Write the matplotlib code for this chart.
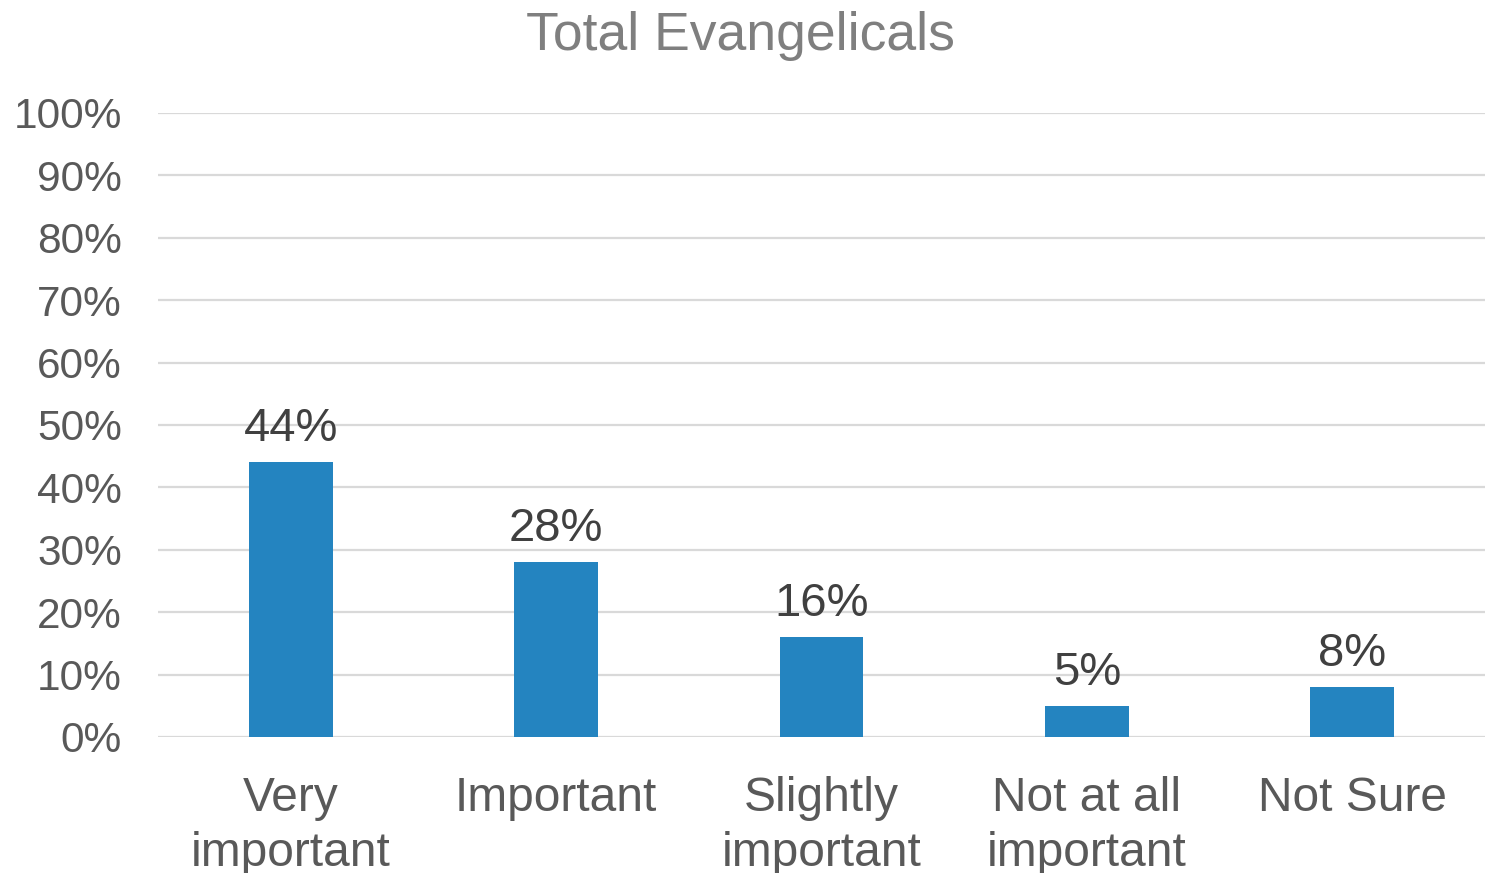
import matplotlib
matplotlib.use("Agg")
import matplotlib.pyplot as plt
from matplotlib.ticker import PercentFormatter

categories = ["Very\nimportant", "Important", "Slightly\nimportant", "Not at all\nimportant", "Not Sure"]
values = [44, 28, 16, 5, 8]
yticks = [0, 10, 20, 30, 40, 50, 60, 70, 80, 90, 100]

plt.rcParams['font.family'] = ['Liberation Sans', 'DejaVu Sans']

fig = plt.figure(figsize=(14.85, 8.73), dpi=100)
ax = fig.add_axes([158/1485, 1 - 737/873, 1 - 158/1485, (737 - 113)/873])

x = list(range(len(categories)))
bars = ax.bar(x, values, width=0.315, color="#2484C0", zorder=3)
ax.set_xlim(-0.5, len(categories) - 0.5)
ax.set_ylim(0, 100)
ax.set_yticks(yticks)
ax.yaxis.set_major_formatter(PercentFormatter(decimals=0))
ax.grid(axis='y', color="#D9D9D9", linewidth=1.6, zorder=0)
for s in ax.spines.values():
    s.set_visible(False)
ax.tick_params(axis='both', length=0)
ax.tick_params(axis='y', labelsize=30.5, labelcolor="#595959", pad=26)
ax.set_xticks(x)
ax.set_xticklabels(categories, fontsize=34.5, color="#595959", linespacing=1.28)
ax.tick_params(axis='x', pad=28)

for xi, v in zip(x, values):
    ax.annotate(f"{v}%", (xi, v), xytext=(0, 8), textcoords="offset points",
                ha="center", va="bottom", fontsize=34, color="#404040")

fig.text(740/1485, 1 - 50/873, "Total Evangelicals", ha="center", va="baseline",
         fontsize=38.5, color="#7F7F7F")

fig.savefig("out.png", dpi=100)
